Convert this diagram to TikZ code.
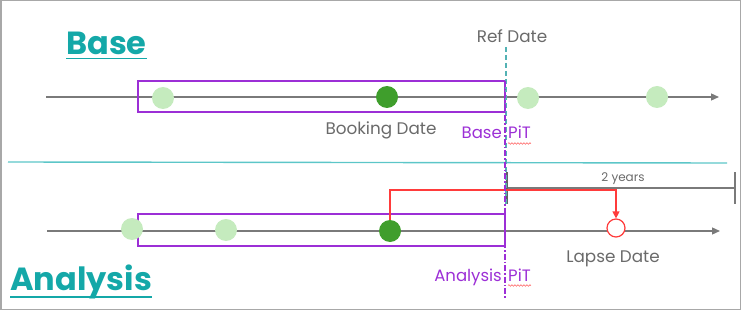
\documentclass[tikz,border=0pt]{standalone}
\usepackage{fontspec}
\setmainfont{Poppins}
\usetikzlibrary{arrows.meta,decorations.pathmorphing,calc}
\definecolor{tealtxt}{HTML}{14A8A8}
\definecolor{tealline}{HTML}{5CC6C8}
\definecolor{purp}{HTML}{9C2FD6}
\definecolor{ltgreen}{HTML}{C5EBBE}
\definecolor{dkgreen}{HTML}{3F9E2C}
\definecolor{redc}{HTML}{FF3B3B}
\definecolor{greyline}{HTML}{7A7A7A}
\definecolor{greytxt}{HTML}{6A6A6A}
\definecolor{framec}{HTML}{A8A8A8}
\tikzset{
  timeline/.style={draw=greyline, line width=1.3pt, -{Triangle[length=8pt,width=7pt]}},
  pitbox/.style={draw=purp, line width=1.4pt},
  ltdot/.style={circle, fill=ltgreen, minimum size=22pt, inner sep=0pt},
  dkdot/.style={circle, fill=dkgreen, minimum size=22pt, inner sep=0pt},
  lapsedot/.style={circle, draw=redc, line width=1.2pt, fill=white, minimum size=18pt, inner sep=0pt},
  lbl/.style={text=greytxt, font=\fontsize{16.8}{18}\selectfont, inner sep=0pt},
  plbl/.style={text=purp, font=\fontsize{16.5}{18}\selectfont, inner sep=0pt},
  title/.style={text=tealtxt, font=\fontsize{32}{36}\selectfont\bfseries, inner sep=0pt, anchor=base west},
  wavy/.style={draw=redc!80, line width=0.6pt, decorate, decoration={snake, segment length=3pt, amplitude=0.8pt}},
}
\begin{document}
\begin{tikzpicture}[x=1pt,y=-1pt]
\useasboundingbox (0,0) rectangle (741,310);
\draw[framec, line width=1.5pt] (0.75,0.75) rectangle (740.25,309.25);

% titles
\node[title] (tbase) at (66,55) {Base};
\draw[tealtxt, line width=1.5pt] ($(tbase.base west)+(0,3.5)$) -- ($(tbase.base east)+(0,3.5)$);
\node[title] (tanal) at (10,290) {Analysis};
\draw[tealtxt, line width=1.5pt] ($(tanal.base west)+(0,7)$) -- ($(tanal.base east)+(0,7)$);

% separator
\coordinate (sepL) at (8,162);
\coordinate (sepR) at (727,163);
\draw[tealline, line width=1.4pt] (sepL) -- (sepR);

% ---- Base timeline ----
\coordinate (t1s) at (46,97);
\coordinate (t1e) at (719,97);
\draw[timeline] (t1s) -- (t1e);
\draw[pitbox] (138,81) rectangle (505,112);
\node[ltdot] (b1) at (163,98) {};
\node[dkdot] (b2) at (387,97) {};
\node[ltdot] (b3) at (528,98) {};
\node[ltdot] (b4) at (657,97) {};
\node[lbl, anchor=base] (booking) at (381,135) {Booking Date};
\node[lbl, anchor=base] (refdate) at (512,43) {Ref Date};
\node[plbl, anchor=base east] (bpit1) at (502,139) {Base};
\node[plbl, anchor=base west] (bpit2) at (508,139) {PiT};
\draw[wavy] ($(bpit2.base west)+(0,4.5)$) -- ($(bpit2.base east)+(0,4.5)$);

% ---- Analysis timeline ----
\coordinate (t2s) at (47,231);
\coordinate (t2e) at (720,231);
\draw[timeline] (t2s) -- (t2e);
\draw[pitbox] (138,214) rectangle (505,246);
\node[ltdot] (a1) at (132,229) {};
\node[ltdot] (a2) at (226,230) {};
\node[dkdot] (a3) at (390,231) {};
\node[lapsedot] (lapse) at (616,228) {};
\node[lbl, anchor=base] (lapselbl) at (613,262) {Lapse Date};
\node[plbl, anchor=base east] (apit1) at (502,281) {Analysis};
\node[plbl, anchor=base west] (apit2) at (508,281) {PiT};
\draw[wavy] ($(apit2.base west)+(0,4.5)$) -- ($(apit2.base east)+(0,4.5)$);

% 2 years bracket
\coordinate (yrL) at (507,188);
\coordinate (yrR) at (735,188);
\draw[greyline, line width=1.2pt] (yrL) -- (yrR);
\draw[greyline!80!black, line width=1.4pt] (507,172) -- (507,204);
\draw[greyline, line width=1.4pt] (735,172) -- (735,204);
\node[text=greytxt, font=\fontsize{12}{14}\selectfont, inner sep=0pt, anchor=base] (yrs) at (623,181) {2 years};

% red connector
\coordinate (redturn) at (616,190);
\draw[redc, line width=1.2pt, -{Triangle[length=7pt,width=7pt]}] (a3.north) |- (redturn) -- (lapse.north);

% vertical PiT / ref lines
\coordinate (refTop) at (506,47);
\coordinate (refBot) at (506,205);
\draw[tealline!90!black, line width=1.2pt, dash pattern=on 5pt off 3pt] (refTop) -- (refBot);
\coordinate (pitTop) at (505,81);
\coordinate (pitBot) at (505,298);
\draw[purp, line width=1.2pt, dash pattern=on 6pt off 2pt on 1.5pt off 2pt] (pitTop) -- (pitBot);
\end{tikzpicture}
\end{document}
